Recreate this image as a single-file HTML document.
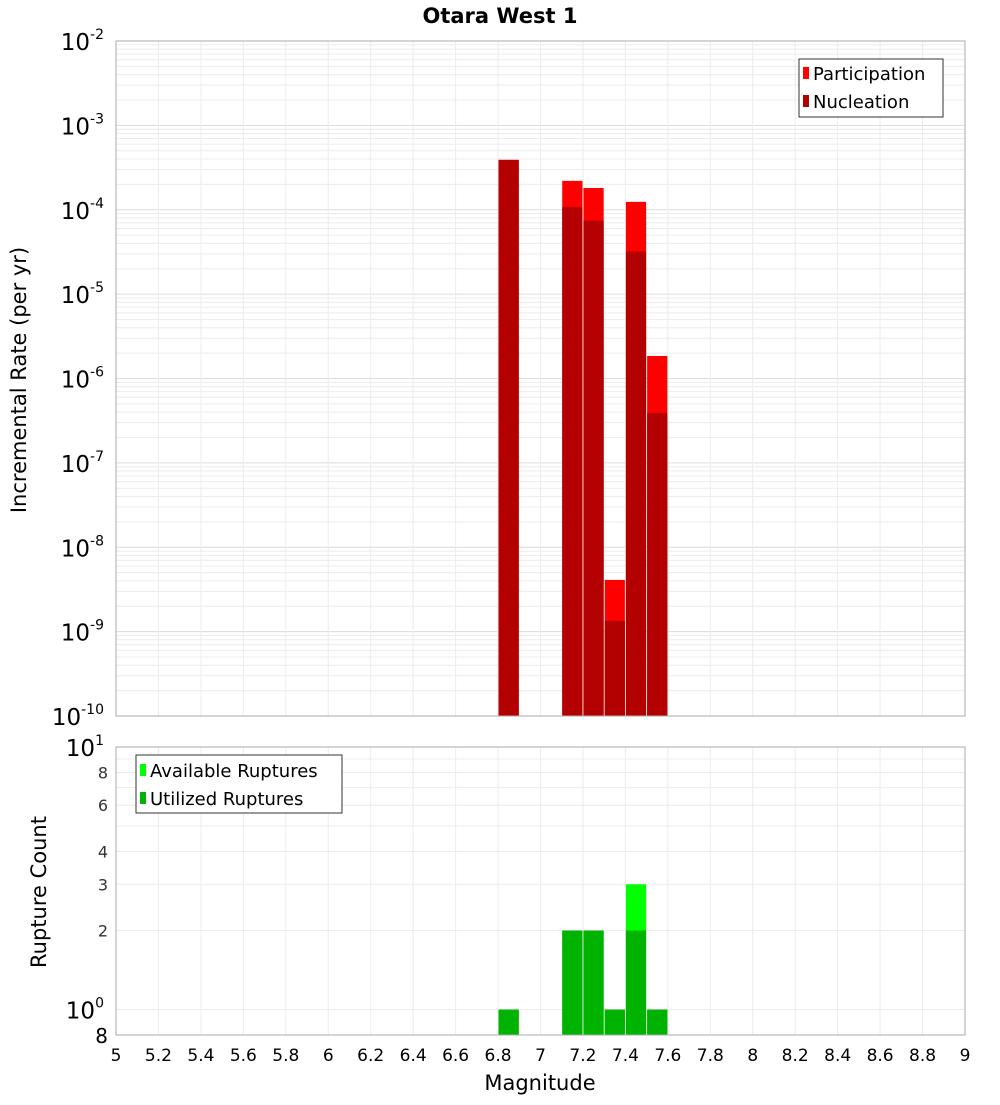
<!DOCTYPE html>
<html><head><meta charset="utf-8"><style>
body{margin:0;background:#fff;font-family:"Liberation Sans",sans-serif;}
svg text{font-family:"DejaVu Sans","Liberation Sans",sans-serif;}
</style></head><body>
<svg id="c" width="1000" height="1100" xmlns="http://www.w3.org/2000/svg"></svg>
<script>
const mags=[6.85,7.15,7.25,7.35,7.45,7.55];
const participation=[3.9e-4,2.2e-4,1.81e-4,4.1e-9,1.24e-4,1.85e-6];
const nucleation=[3.9e-4,1.08e-4,7.4e-5,1.34e-9,3.2e-5,3.9e-7];
const available=[1,2,2,1,3,1];
const utilized=[1,2,2,1,2,1];
const xTicks=[5,5.2,5.4,5.6,5.8,6,6.2,6.4,6.6,6.8,7,7.2,7.4,7.6,7.8,8,8.2,8.4,8.6,8.8,9];
const topExps=[-2,-3,-4,-5,-6,-7,-8,-9,-10];
const botTicks=[8,6,4,3,2];

const S=document.getElementById('c');const NS='http://www.w3.org/2000/svg';
function el(t,a,p){const e=document.createElementNS(NS,t);for(const k in a)e.setAttribute(k,a[k]);(p||S).appendChild(e);return e;}
const X0=116,X1=965;
const x=m=>X0+(m-5)/4*(X1-X0);
const T0=41,T1=716;
const yT=v=>T0+(-2-Math.log10(v))/8*(T1-T0);
const B0=747,B1=1035;
const lmin=Math.log10(0.8),lmax=1;
const yB=v=>B0+(lmax-Math.log10(v))/(lmax-lmin)*(B1-B0);

// frames & grids
let g;
g=el('g',{});
for(let e=-10;e<-2;e++)for(let k=1;k<10;k++){const y=yT(k*Math.pow(10,e));el('line',{x1:X0,x2:X1,y1:y,y2:y,stroke:k==1?'#dcdcdc':'#ececec','stroke-width':1},g);}
xTicks.forEach(t=>{el('line',{x1:x(t),x2:x(t),y1:T0,y2:T1,stroke:'#ececec'},g);el('line',{x1:x(t),x2:x(t),y1:B0,y2:B1,stroke:'#ececec'},g);});
g=el('g',{});
[0.8,1,2,3,4,5,6,7,8,9,10].forEach(v=>{const y=yB(v);el('line',{x1:X0,x2:X1,y1:y,y2:y,stroke:'#ececec'},g);});

// bars top
const bw=x(5.1)-x(5);
mags.forEach((m,i)=>{
 let r=el('rect',{x:x(m-0.05)+0.5,y:yT(participation[i]),width:bw-1,height:T1-yT(participation[i]),fill:'#ff0000'});
 
 r=el('rect',{x:x(m-0.05)+0.5,y:yT(nucleation[i]),width:bw-1,height:T1-yT(nucleation[i]),fill:'#b30000'});
 
 r=el('rect',{x:x(m-0.05)+0.5,y:yB(available[i]),width:bw-1,height:B1-yB(available[i]),fill:'#00ff00'});
 
 r=el('rect',{x:x(m-0.05)+0.5,y:yB(utilized[i]),width:bw-1,height:B1-yB(utilized[i]),fill:'#00b300'});
 
});
el('rect',{x:X0,y:T0,width:X1-X0,height:T1-T0,fill:'none',stroke:'#aaa'});
el('rect',{x:X0,y:B0,width:X1-X0,height:B1-B0,fill:'none',stroke:'#aaa'});

// top y labels
topExps.forEach(e=>{const y=yT(Math.pow(10,e));
 const t=el('text',{x:104,y:y+9,'text-anchor':'end','font-size':23});
 
 t.innerHTML='10<tspan dy="-11" font-size="14">'+e+'</tspan>';});
// bottom y labels
[[10,'1'],[1,'0']].forEach(([v,e])=>{const t=el('text',{x:104,y:yB(v)+9,'text-anchor':'end','font-size':23});
 
 t.innerHTML='10<tspan dy="-11" font-size="14">'+e+'</tspan>';});
botTicks.forEach(v=>{const t=el('text',{x:108,y:yB(v)+6,'text-anchor':'end','font-size':16,fill:'#333'});
 t.textContent=v;});
let t8=el('text',{x:108,y:1043,'text-anchor':'end','font-size':20});t8.textContent='8';

// x labels
xTicks.forEach(v=>{const t=el('text',{x:x(v),y:1061,'text-anchor':'middle','font-size':17});
 t.textContent=String(v);});

function txt(s,a,name){const t=el('text',a);t.textContent=s;return t;}
txt('Otara West 1',{x:500,y:23,'text-anchor':'middle','font-size':21,'font-weight':'bold'},'chart-title');
txt('Magnitude',{x:540,y:1090,'text-anchor':'middle','font-size':21},'x-axis-title');
txt('Incremental Rate (per yr)',{x:0,y:0,transform:'translate(26,380) rotate(-90)','text-anchor':'middle','font-size':21},'y-axis-title');
txt('Rupture Count',{x:0,y:0,transform:'translate(46,892) rotate(-90)','text-anchor':'middle','font-size':21},'y-axis-title-bottom');

// legends
g=el('g',{});
el('rect',{x:799,y:59,width:144,height:58,fill:'#fff',stroke:'#333'},g);
el('rect',{x:803,y:67,width:6,height:12,fill:'#ff0000'},g);
el('rect',{x:803,y:95,width:6,height:12,fill:'#b30000'},g);
txt('Participation',{x:813,y:80,'font-size':18},'legend-entry');
txt('Nucleation',{x:813,y:108,'font-size':18},'legend-entry');
g=el('g',{});
el('rect',{x:136,y:755,width:206,height:58,fill:'#fff',stroke:'#333'},g);
el('rect',{x:140,y:764,width:6,height:12,fill:'#00ff00'},g);
el('rect',{x:140,y:792,width:6,height:12,fill:'#00b300'},g);
txt('Available Ruptures',{x:150,y:777,'font-size':18},'legend-entry');
txt('Utilized Ruptures',{x:150,y:805,'font-size':18},'legend-entry');
</script>
</body></html>
